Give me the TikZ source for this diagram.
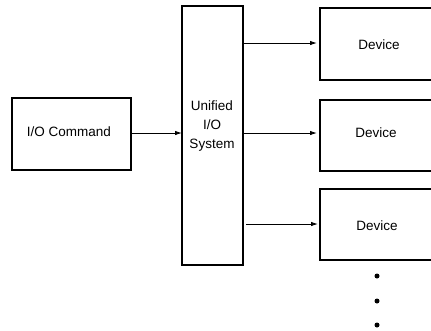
\documentclass[tikz,border=0pt]{standalone}
\usepackage{fontspec}
\setmainfont{Liberation Sans}
\usetikzlibrary{arrows.meta}
\begin{document}
\begin{tikzpicture}[x=1pt,y=-1pt,
  box/.style={draw,line width=1.1pt},
  conn/.style={line width=0.9pt,-{Latex[length=7pt,width=4.5pt]}},
  lbl/.style={font=\fontsize{13.5}{19}\selectfont,align=center},
  dot/.style={circle,fill,inner sep=0pt,minimum size=5pt}]
\useasboundingbox (0,0) rectangle (431,330);
\draw[box] (12,98) rectangle (131,170);
\node[lbl] (cmd) at (69,132) {I/O Command};
\coordinate (cmdR) at (131,133);
\draw[box] (182,6) rectangle (243,265);
\node[lbl] (uni) at (212,126) {Unified\\I/O\\System};
\coordinate (uniL) at (182,133);
\draw[box] (320,8) rectangle (440,80);
\draw[box] (320,100) rectangle (440,171);
\draw[box] (320,189) rectangle (440,260);
\node[lbl] (d1) at (379,45) {Device};
\node[lbl] (d2) at (376,133) {Device};
\node[lbl] (d3) at (377,226) {Device};
\coordinate (u1) at (243,43);
\coordinate (u2) at (243,133);
\coordinate (u3) at (246,224);
\coordinate (l1) at (317,43);
\coordinate (l2) at (317,133);
\coordinate (l3) at (318,224);
\draw[conn] (cmdR) -- (uniL);
\draw[conn] (u1) -- (l1);
\draw[conn] (u2) -- (l2);
\draw[conn] (u3) -- (l3);
\node[dot] (p1) at (377,276) {};
\node[dot] (p2) at (377,301) {};
\node[dot] (p3) at (377,325) {};
\end{tikzpicture}
\end{document}
